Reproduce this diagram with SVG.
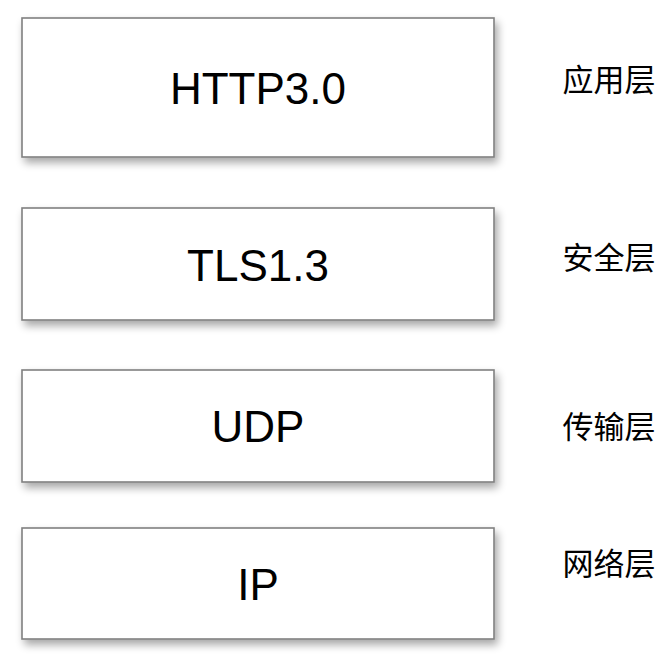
<svg xmlns="http://www.w3.org/2000/svg" width="668" height="666" viewBox="0 0 668 666">
<defs>
<filter id="sh" x="-10%" y="-20%" width="125%" height="150%">
<feGaussianBlur in="SourceAlpha" stdDeviation="4"/>
<feOffset dx="3" dy="5" result="b"/>
<feComponentTransfer><feFuncA type="linear" slope="0.35"/></feComponentTransfer>
<feMerge><feMergeNode/><feMergeNode in="SourceGraphic"/></feMerge>
</filter>
</defs>
<style>
.box{fill:#fff;stroke:#808080;stroke-width:1.6;filter:url(#sh)}
.t{font-family:"Liberation Sans",Arial,sans-serif;font-size:44px;fill:#000;text-anchor:middle}
.c{font-family:"Noto Sans CJK SC","Noto Sans",sans-serif;font-size:31px;fill:#000;text-anchor:middle}
</style>
<rect width="668" height="666" fill="#fff"/>
<g id="http3">
<rect class="box" x="22" y="18" width="472" height="139"/>
<text class="t" x="258" y="104">HTTP3.0</text>
</g>
<g id="tls">
<rect class="box" x="22" y="208" width="472" height="112"/>
<text class="t" x="258" y="281">TLS1.3</text>
</g>
<g id="udp">
<rect class="box" x="22" y="370" width="472" height="112"/>
<text class="t" x="258" y="442">UDP</text>
</g>
<g id="ip">
<rect class="box" x="22" y="528" width="472" height="111"/>
<text class="t" x="258" y="600">IP</text>
</g>
<g id="labels">
<text class="c" x="609" y="91">应用层</text>
<text class="c" x="609" y="269">安全层</text>
<text class="c" x="609" y="438">传输层</text>
<text class="c" x="609" y="575">网络层</text>
</g>
<g id="connectors"/>
</svg>
